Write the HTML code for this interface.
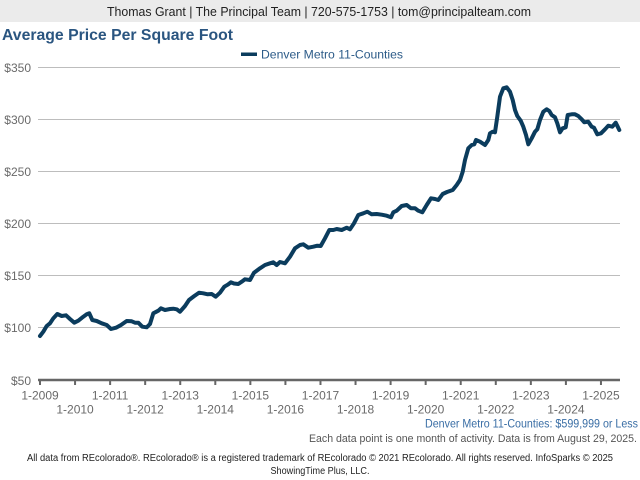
<!DOCTYPE html>
<html>
<head>
<meta charset="utf-8">
<style>
  html, body { margin: 0; padding: 0; background: #ffffff; }
  body { width: 640px; height: 480px; overflow: hidden; }
  svg { display: block; }
  text { font-family: "Liberation Sans", Arial, sans-serif; }
</style>
</head>
<body>
<svg width="640" height="480" viewBox="0 0 640 480" xmlns="http://www.w3.org/2000/svg">
  <rect x="0" y="0" width="640" height="480" fill="#ffffff"/>
  <!-- header bar -->
  <rect x="0" y="0" width="640" height="22" fill="#ebebeb"/>
  <text x="319" y="16" font-size="13" fill="#222" text-anchor="middle" textLength="424" lengthAdjust="spacingAndGlyphs">Thomas Grant | The Principal Team | 720-575-1753 | tom@principalteam.com</text>

  <!-- title -->
  <text x="2" y="40" font-size="16" font-weight="bold" fill="#2a5580" textLength="231" lengthAdjust="spacingAndGlyphs">Average Price Per Square Foot</text>

  <!-- legend -->
  <rect x="241" y="52.5" width="16" height="3.5" fill="#0b3c5d"/>
  <text x="261" y="58.5" font-size="12" fill="#2c5b88" textLength="142" lengthAdjust="spacingAndGlyphs">Denver Metro 11-Counties</text>

  <!-- gridlines -->
  <g stroke="#bdbdbd" stroke-width="1">
    <line x1="38" y1="67.5" x2="620" y2="67.5"/>
    <line x1="38" y1="119.5" x2="620" y2="119.5"/>
    <line x1="38" y1="171.5" x2="620" y2="171.5"/>
    <line x1="38" y1="223.5" x2="620" y2="223.5"/>
    <line x1="38" y1="275.5" x2="620" y2="275.5"/>
    <line x1="38" y1="327.5" x2="620" y2="327.5"/>
  </g>

  <!-- y labels -->
  <g font-size="12" fill="#6a6a6a" text-anchor="end">
    <text x="31" y="72">$350</text>
    <text x="31" y="124">$300</text>
    <text x="31" y="176">$250</text>
    <text x="31" y="228">$200</text>
    <text x="31" y="280">$150</text>
    <text x="31" y="332">$100</text>
    <text x="31" y="385">$50</text>
  </g>

  <!-- x axis -->
  <line x1="38" y1="380" x2="620" y2="380" stroke="#666" stroke-width="2.5"/>
  <g stroke="#666" stroke-width="2">
    <line x1="40" y1="380" x2="40" y2="385"/>
    <line x1="75.06" y1="380" x2="75.06" y2="385"/>
    <line x1="110.12" y1="380" x2="110.12" y2="385"/>
    <line x1="145.18" y1="380" x2="145.18" y2="385"/>
    <line x1="180.24" y1="380" x2="180.24" y2="385"/>
    <line x1="215.3" y1="380" x2="215.3" y2="385"/>
    <line x1="250.36" y1="380" x2="250.36" y2="385"/>
    <line x1="285.42" y1="380" x2="285.42" y2="385"/>
    <line x1="320.48" y1="380" x2="320.48" y2="385"/>
    <line x1="355.54" y1="380" x2="355.54" y2="385"/>
    <line x1="390.6" y1="380" x2="390.6" y2="385"/>
    <line x1="425.66" y1="380" x2="425.66" y2="385"/>
    <line x1="460.72" y1="380" x2="460.72" y2="385"/>
    <line x1="495.78" y1="380" x2="495.78" y2="385"/>
    <line x1="530.84" y1="380" x2="530.84" y2="385"/>
    <line x1="565.9" y1="380" x2="565.9" y2="385"/>
    <line x1="600.96" y1="380" x2="600.96" y2="385"/>
  </g>
  <g font-size="12" fill="#6a6a6a" text-anchor="middle">
    <text x="40" y="399.5">1-2009</text>
    <text x="110.12" y="399.5">1-2011</text>
    <text x="180.24" y="399.5">1-2013</text>
    <text x="250.36" y="399.5">1-2015</text>
    <text x="320.48" y="399.5">1-2017</text>
    <text x="390.6" y="399.5">1-2019</text>
    <text x="460.72" y="399.5">1-2021</text>
    <text x="530.84" y="399.5">1-2023</text>
    <text x="600.96" y="399.5">1-2025</text>
    <text x="75.06" y="413.5">1-2010</text>
    <text x="145.18" y="413.5">1-2012</text>
    <text x="215.3" y="413.5">1-2014</text>
    <text x="285.42" y="413.5">1-2016</text>
    <text x="355.54" y="413.5">1-2018</text>
    <text x="425.66" y="413.5">1-2020</text>
    <text x="495.78" y="413.5">1-2022</text>
    <text x="565.9" y="413.5">1-2024</text>
  </g>

  <!-- data line -->
  <polyline fill="none" stroke="#0b3c5d" stroke-width="4" stroke-linejoin="round" stroke-linecap="round"
    points="40,336 43.3,331.7 46.7,326 50,323.3 53.3,318.3 57.3,314 61.7,316 66,315.3 70,319 74.3,322.7 78.3,320.7 83.3,316.7 86.7,314.3 89.3,313.3 92.3,320 96.7,321 101.7,323.3 106.7,325 111,329 116,327.7 121,325 126.7,321 131.7,321.3 135,322.7 138.3,322.7 142.3,326.7 146.7,327.3 150,324 153.3,313.3 158.3,310.7 161,308.3 165,310 170,309 173.3,308.7 176.7,309.3 180,311.7 185,306 189,300 194.3,296 199,292.7 203.3,293.3 207.7,294.3 211.7,294 215.7,296.7 220,292.7 224.3,286.7 227.7,284.7 231,282.3 234,283.5 238.3,284 241.7,281.7 245,279.3 250,280 254,272.7 260,268.3 265,265 270,263.3 273.3,262.3 276.7,265 280,262 285,263.3 290,256.7 295,248.3 300,245 303.3,244.3 308.3,247.7 313.3,246.7 317.3,245.7 320.7,246 325,238.3 329.3,230 333.3,230 336.7,229 341.7,230 346.7,227.7 350,229.3 354,223.3 358.3,215 363.3,213.3 367.3,211.7 371.7,214.3 376.7,214 381.7,214.7 386.7,215.7 391,217.3 393.3,212.3 396.7,210.7 401.7,206 406.7,205 411,208.3 415,208.3 418.3,210.7 422.3,212.3 426.7,205 431,198.3 435,199 438.3,200 442.7,194 447,192 452.7,190 456.7,185 460,180 462.7,171.7 465,160 468.3,148.3 471.7,145 474.3,144.3 476,140 480,141.7 485,145 488.3,140 490,133.3 492.7,131.7 495,132.3 497.3,116.7 500,96.7 503.3,88.3 506.7,87.3 510,91.7 512.7,100 515,110 517.3,116 520.7,120.7 523.3,126.7 526,135 528.3,144.3 531.7,138.3 535,131.7 537.3,129.3 540,120 543.3,111.7 546.7,109.3 549.3,111 551.7,115 555,117.3 557.3,123.3 560,132.3 562.7,128.3 565.7,127.3 567.7,115 571.7,114.3 575,114.3 578.3,116 581.7,119.3 584.3,122.3 588.3,121.7 591.7,126.7 594,127.7 597.3,134.3 601,133.3 605,129.3 608.3,125.7 612.3,126.7 615.7,122.7 617.7,126.7 619.3,130"/>

  <!-- footer -->
  <text x="638" y="427.5" font-size="12" fill="#3a6ea5" text-anchor="end" textLength="213" lengthAdjust="spacingAndGlyphs">Denver Metro 11-Counties: $599,999 or Less</text>
  <text x="637" y="442" font-size="11" fill="#555" text-anchor="end" textLength="328" lengthAdjust="spacingAndGlyphs">Each data point is one month of activity. Data is from August 29, 2025.</text>
  <text x="320" y="461" font-size="10" fill="#222" text-anchor="middle" textLength="586" lengthAdjust="spacingAndGlyphs">All data from REcolorado®. REcolorado® is a registered trademark of REcolorado © 2021 REcolorado. All rights reserved. InfoSparks © 2025</text>
  <text x="320" y="474" font-size="10" fill="#222" text-anchor="middle" textLength="99" lengthAdjust="spacingAndGlyphs">ShowingTime Plus, LLC.</text>
</svg>
</body>
</html>
